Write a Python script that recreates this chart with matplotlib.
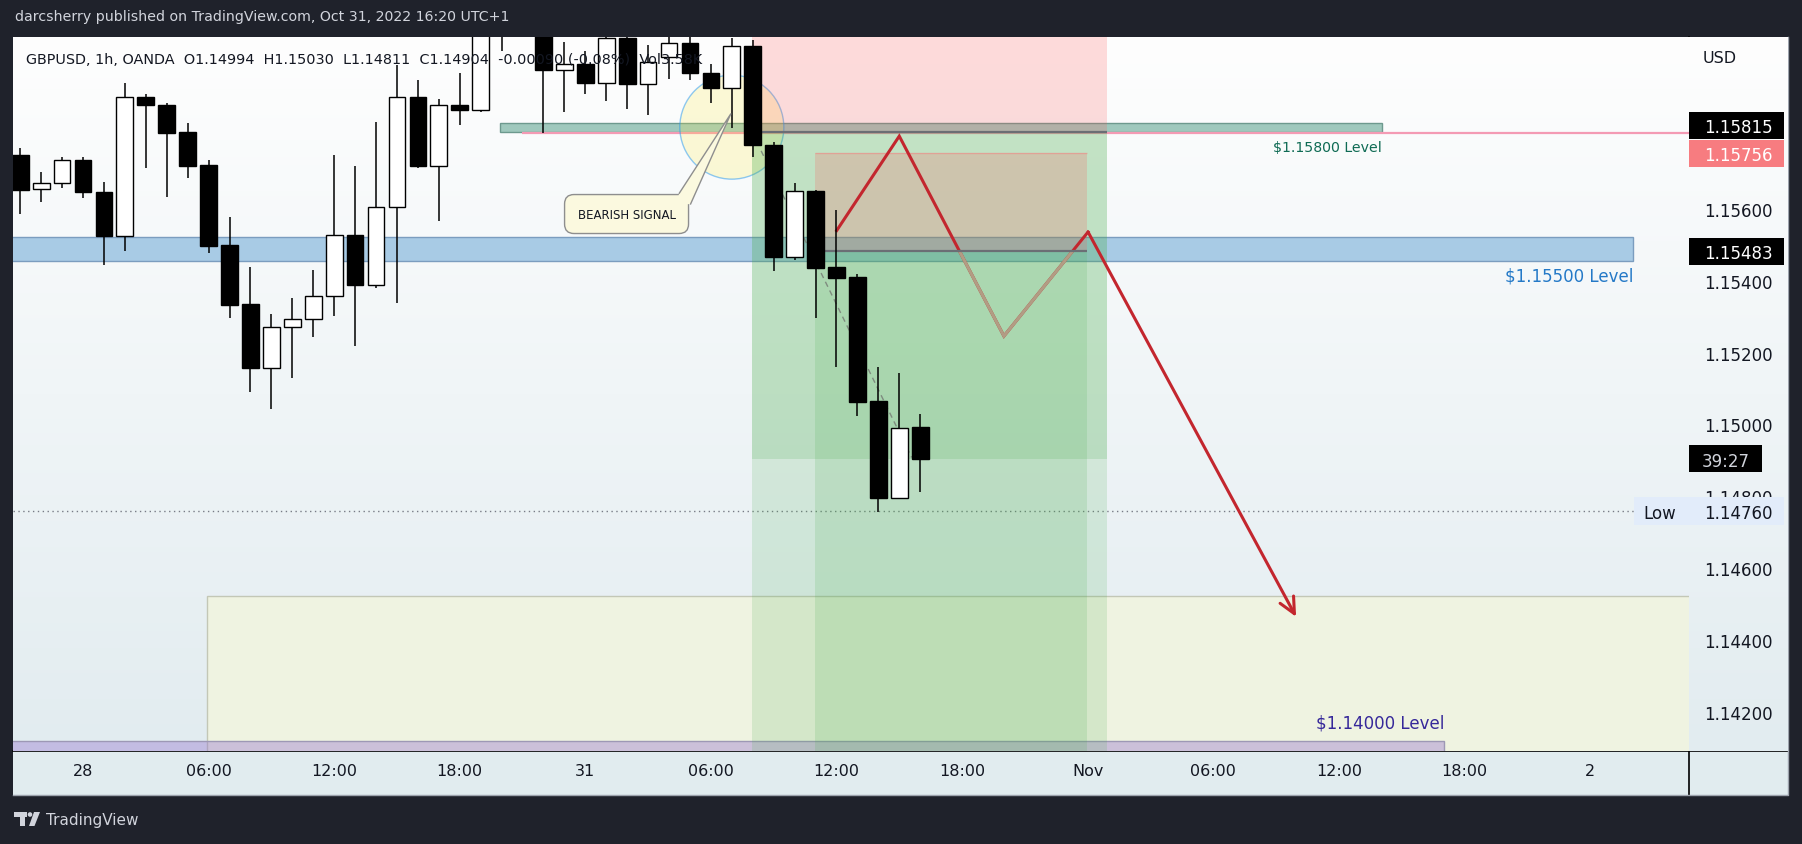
import numpy as np
import matplotlib
matplotlib.use("Agg")
import matplotlib.pyplot as plt
from matplotlib.patches import Rectangle, Ellipse, Polygon, Circle
from matplotlib.lines import Line2D
import matplotlib.transforms as mtransforms

plt.rcParams['font.family'] = ['DejaVu Sans']

# ---------------- data (GBPUSD 1h, bar index 0 = Oct 28 00:00) ----------------
bar_index = list(range(-3, 41))
opens = [1.15751, 1.15655, 1.15672, 1.15736, 1.15647, 1.15525, 1.15912, 1.15891, 1.15815, 1.15723,
         1.15499, 1.15334, 1.15157, 1.15270, 1.15295, 1.15359, 1.15527, 1.15389, 1.15605, 1.15912,
         1.15721, 1.15890, 1.15876, 1.16110, 1.16150, 1.16120, 1.15988, 1.16005, 1.15951, 1.16077,
         1.15948, 1.16024, 1.16061, 1.15979, 1.15937, 1.16054, 1.15778, 1.15467, 1.15649, 1.15438,
         1.15410, 1.15064, 1.14795, 1.14994]
highs = [1.15770, 1.15703, 1.15745, 1.15745, 1.15675, 1.15952, 1.15921, 1.15896, 1.15840, 1.15737,
         1.15578, 1.15438, 1.15307, 1.15351, 1.15430, 1.15751, 1.15720, 1.15843, 1.16000, 1.15960,
         1.15906, 1.15980, 1.16130, 1.16180, 1.16250, 1.16150, 1.16066, 1.16040, 1.16100, 1.16120,
         1.16056, 1.16090, 1.16090, 1.16005, 1.16075, 1.16070, 1.15786, 1.15673, 1.15652, 1.15597,
         1.15420, 1.15160, 1.15142, 1.15030]
lows = [1.15587, 1.15620, 1.15659, 1.15632, 1.15444, 1.15484, 1.15715, 1.15634, 1.15685, 1.15478,
        1.15296, 1.15090, 1.15043, 1.15129, 1.15243, 1.15302, 1.15218, 1.15380, 1.15339, 1.15715,
        1.15567, 1.15835, 1.15870, 1.16039, 1.16095, 1.15811, 1.15870, 1.15919, 1.15900, 1.15878,
        1.15861, 1.15961, 1.15958, 1.15894, 1.15827, 1.15746, 1.15428, 1.15458, 1.15296, 1.15160,
        1.15023, 1.14757, 1.14795, 1.14811]
closes = [1.15654, 1.15672, 1.15736, 1.15646, 1.15525, 1.15912, 1.15889, 1.15813, 1.15721, 1.15497,
          1.15333, 1.15157, 1.15270, 1.15295, 1.15359, 1.15527, 1.15389, 1.15605, 1.15912, 1.15721,
          1.15890, 1.15876, 1.16100, 1.16150, 1.16120, 1.15986, 1.16005, 1.15951, 1.16077, 1.15947,
          1.16010, 1.16061, 1.15979, 1.15936, 1.16054, 1.15777, 1.15467, 1.15649, 1.15436, 1.15408,
          1.15062, 1.14795, 1.14991, 1.14904]

xtick_pos = [0, 6, 12, 18, 24, 30, 36, 42, 48, 54, 60, 66, 72]
xtick_labels = ['28', '06:00', '12:00', '18:00', '31', '06:00', '12:00', '18:00',
                'Nov', '06:00', '12:00', '18:00', '2']
ytick_vals = [1.142, 1.144, 1.146, 1.148, 1.150, 1.152, 1.154, 1.156]
ytick_labels = ['%.5f' % v for v in ytick_vals]

# drawings (bar index / price)
level_1155 = (1.15456, 1.15521, 74.06)          # bottom, top, right end
level_1158 = (1.15814, 1.15839, 19.92, 62.06)   # bottom, top, left, right
level_114 = (1.14000, 1.14118, 65.03)
zone_low = (5.93, 1.14523)                      # left, top
last_price = 1.14904
session_low = 1.14760
pink_line = (1.15812, 20.96)
pos_a = (31.96, 48.93, 1.15815, 1.1625, 1.139)   # x0, x1, entry, stop, target
pos_b = (34.97, 47.97, 1.15483, 1.15756, 1.139)
zig_x = [36.01, 39.0, 44.0, 48.02, 57.96]
zig_y = [1.15540, 1.15803, 1.15246, 1.15536, 1.14464]
trend_x = [32.4, 39.59]
trend_y = [1.15762, 1.14908]
signal_center = (31.0, 1.15828)
callout_text_pos = (25.97, 1.15586)
callout_tail = [(28.49, 1.15644), (30.95, 1.15865), (29.03, 1.15614), (28.3, 1.15610)]

axis_labels = [  # (display price, text, box colour, text colour)
    (1.15833, '1.15815', '#000000', '#ffffff'),
    (1.15755, '1.15756', '#f77c80', '#ffffff'),
    (1.15482, '1.15483', '#000000', '#ffffff'),
]

# ---------------- layout ----------------
W, H = 1802, 845
PL, PT, PR, PB = 13, 38, 1689, 752
AR, AB = 1788, 796
xl, xr = (PL - 83) / 20.93, (PR - 83) / 20.93
pb, pt = 1.140903, 1.160791
ppx = (pt - pb) / (PB - PT)
xpx = (xr - xl) / (PR - PL)

fig = plt.figure(figsize=(W / 100, H / 100), dpi=100)
fig.patch.set_facecolor('#1f222b')


def fr(x0, y0, x1, y1):
    return [x0 / W, 1 - y1 / H, (x1 - x0) / W, (y1 - y0) / H]


tpx = mtransforms.Affine2D().scale(1 / W, -1 / H).translate(0, 1) + fig.transFigure

# gradient
N = 256
t = np.linspace(0, 1, N)[:, None]
top_c = np.array([254, 254, 254]) / 255
bot_c = np.array([226, 236, 240]) / 255
grad = (top_c + (bot_c - top_c) * t).reshape(N, 1, 3)

ax_t = fig.add_axes(fr(PL, PB, AR, AB))
ax_t.set_facecolor('#e1ecef')
ax_t.set_xticks([]); ax_t.set_yticks([])
for s in ax_t.spines.values():
    s.set_visible(False)
ax_t.set_zorder(1)

ax_p = fig.add_axes(fr(PR, PT, AR, PB))
ax_p.imshow(grad, extent=[0, 1, pb, pt], aspect='auto', zorder=0)
ax_p.set_xlim(0, 1); ax_p.set_ylim(pb, pt)
ax_p.set_xticks([])
ax_p.set_yticks(ytick_vals, ytick_labels)
ax_p.tick_params(axis='y', length=0, pad=-60.5, labelsize=12, labelcolor='#131722')
for s in ax_p.spines.values():
    s.set_visible(False)
ax_p.set_zorder(2)

ax = fig.add_axes(fr(PL, PT, PR, PB))
ax.imshow(grad, extent=[xl, xr, pb, pt], aspect='auto', zorder=0)
ax.set_xlim(xl, xr); ax.set_ylim(pb, pt)
ax.set_autoscale_on(False)
for s in ax.spines.values():
    s.set_visible(False)
ax.set_yticks([])
ax.set_xticks(xtick_pos, xtick_labels)
ax.tick_params(axis='x', length=0, pad=8.6, labelsize=11.5, labelcolor='#131722')
ax.set_zorder(3)

# price axis labels
for yv, txt, bc, tc in axis_labels:
    ax_p.add_patch(Rectangle((0, yv - 13.5 * ppx), 0.96, 27 * ppx, fc=bc, ec='none', zorder=5))
    ax_p.text(0.848, yv, txt, ha='right', va='center_baseline', fontsize=12, color=tc, zorder=6)
ax_p.add_patch(Rectangle((0, last_price - 13.5 * ppx), 0.737, 27 * ppx, fc='#000000', ec='none', zorder=5))
ax_p.text(0.369, last_price, '39:27', ha='center', va='center_baseline', fontsize=12, color='#d1d4dc', zorder=6)
ax_p.add_patch(Rectangle((0, session_low - 14 * ppx), 0.96, 28 * ppx, fc='#e2ecfa', ec='none', zorder=5))
ax_p.text(0.848, session_low, '%.5f' % session_low, ha='right', va='center_baseline', fontsize=12,
          color='#131722', zorder=6)
ax_p.text(0.138, 0.9716, 'USD', transform=ax_p.transAxes, ha='left', va='center', fontsize=11.5,
          color='#131722')

# ---------------- drawings ----------------
ax.add_patch(Rectangle((zone_low[0], 1.139), 80, zone_low[1] - 1.139, fc='#eff3e1', ec='#c3c7b6',
                       lw=1, zorder=1))
ax.add_patch(Rectangle((xl - 1, level_114[0]), level_114[2] - xl + 1, level_114[1] - level_114[0],
                       fc=(149 / 255, 117 / 255, 205 / 255, 0.4), ec='#9d98b5', lw=1, zorder=1.2))
ax.add_patch(Rectangle((xl - 1, level_1155[0]), level_1155[2] - xl + 1, level_1155[1] - level_1155[0],
                       fc='#a8cbe5', ec='#7b9dbf', lw=1, zorder=1.5))
ax.add_patch(Rectangle((level_1158[2], level_1158[0]), level_1158[3] - level_1158[2],
                       level_1158[1] - level_1158[0], fc='#9fc8bd', ec='#6d998e', lw=1, zorder=1.5))
ax.hlines(pink_line[0], pink_line[1], xr + 1, color='#f49ab4', lw=1.6, zorder=1.6)
ax.axhline(session_low, color='#787b86', lw=1, ls=(0, (1, 2.5)), zorder=1.7)

header = ('GBPUSD, 1h, OANDA  O1.14994  H1.15030  L1.14811  C1.14904  '
          '-0.00090 (-0.08%)  Vol3.58K')
ax.text((25.5 - PL) / (PR - PL), (PB - 60) / (PB - PT), header, transform=ax.transAxes,
        fontsize=10.4, color='#131722', va='center', ha='left', zorder=10)

ax.add_patch(Ellipse(signal_center, 104 * xpx, 104 * ppx, fc=(1, 0.92, 0.23, 0.2),
                     ec=(0.13, 0.59, 0.95, 0.5), lw=1, zorder=2))

green = (76 / 255, 175 / 255, 80 / 255)
red = (1, 82 / 255, 82 / 255)
x0, x1, en, st, tg = pos_a
ax.add_patch(Rectangle((x0, en), x1 - x0, st - en, fc=red + (0.2,), ec='none', zorder=3))
ax.add_patch(Rectangle((x0, tg), x1 - x0, en - tg, fc=green + (0.165,), ec='none', zorder=3))
ax.add_patch(Rectangle((x0, last_price), x1 - x0, en - last_price, fc=green + (0.18,), ec='none', zorder=3))
ax.hlines(en, x0, x1, color='#6b6e75', lw=1.6, zorder=4)

bx0, bx1, ben, bst, btg = pos_b
ax.add_patch(Rectangle((bx0, ben), bx1 - bx0, bst - ben, fc=red + (0.2,), ec='none', zorder=3.2))
ax.hlines(bst, bx0, bx1, color=(0.95, 0.5, 0.5, 0.5), lw=1, zorder=3.2)

ax.plot(zig_x[:-1], zig_y[:-1], color='#c3262e', lw=2.2, zorder=3.5, solid_joinstyle='miter')
ax.annotate('', xy=(zig_x[-1], zig_y[-1]), xytext=(zig_x[-2], zig_y[-2]),
            arrowprops=dict(arrowstyle='->,head_length=1.15,head_width=0.55', color='#c3262e',
                            lw=2.2, shrinkA=0, shrinkB=0), zorder=3.5)
b_target = Rectangle((bx0, btg), bx1 - bx0, ben - btg, fc=green + (0.165,), ec='none', zorder=3.6)
ax.add_patch(b_target)
faded, = ax.plot(zig_x[:-1], zig_y[:-1], color='#b29c84', lw=2.2, zorder=3.7, solid_joinstyle='miter')
faded.set_clip_path(b_target)
ax.hlines(ben, bx0 + 0.4, bx1, color='#6b6e75', lw=1.6, zorder=4)

ax.plot(trend_x, trend_y, color='#7f8c7f', lw=1, ls=(0, (4, 3)), zorder=5)

# candles
bottoms = [min(o, c) for o, c in zip(opens, closes)]
heights = [max(abs(c - o), 1.2 * ppx) for o, c in zip(opens, closes)]
colors = ['#000000' if c < o else '#ffffff' for o, c in zip(opens, closes)]
ax.vlines(bar_index, lows, highs, color='#000000', lw=1.1, zorder=6)
ax.bar(bar_index, heights, bottom=bottoms, width=0.8, color=colors, edgecolor='#000000',
       linewidth=1, zorder=6.5)

# callout
ax.text(callout_text_pos[0], callout_text_pos[1], 'BEARISH SIGNAL', fontsize=8.5, ha='center',
        va='center', color='#131722', zorder=7,
        bbox=dict(boxstyle='round,pad=1.1,rounding_size=0.8', fc='#fbf9df', ec='#8e8e8e', lw=1))
ax.add_patch(Polygon(callout_tail, closed=True, fc='#fbf9df', ec='none', zorder=7.1))
ax.plot([callout_tail[0][0], callout_tail[1][0], callout_tail[2][0]],
        [callout_tail[0][1], callout_tail[1][1], callout_tail[2][1]], color='#8e8e8e', lw=1, zorder=7.2)

# level labels
ax.text(level_1155[2], 1.15414, '$1.15500 Level', ha='right', va='center', fontsize=12,
        color='#2479c7', zorder=8)
ax.text(level_1158[3], 1.15772, '$1.15800 Level', ha='right', va='center', fontsize=10.2,
        color='#0f6b54', zorder=8)
ax.text(level_114[2], 1.14170, '$1.14000 Level', ha='right', va='center', fontsize=12,
        color='#36289a', zorder=8)

# Low label
ax.add_patch(Rectangle((xr - 55 * xpx, session_low - 14 * ppx), 55 * xpx, 28 * ppx, fc='#e2ecfa',
                       ec='none', zorder=8))
ax.text(xr - 29 * xpx, session_low, 'Low', ha='center', va='center_baseline', fontsize=12,
        color='#131722', zorder=9)

# frame lines
fig.add_artist(Line2D([PL / W, AR / W], [1 - PB / H] * 2, color='#000000', lw=1.2))
fig.add_artist(Line2D([PR / W] * 2, [1 - PT / H, 1 - AB / H], color='#000000', lw=1.2))
fig.add_artist(Line2D([PL / W, AR / W, AR / W], [1 - AB / H, 1 - AB / H, 1 - PT / H],
                      color='#9da3ad', lw=1))

# header / footer
fig.text(15 / W, 1 - 17 / H, 'darcsherry published on TradingView.com, Oct 31, 2022 16:20 UTC+1',
         color='#d1d4dc', fontsize=10.2, va='center', ha='left')
fig.text(46 / W, 1 - 821 / H, 'TradingView', color='#d1d4dc', fontsize=11, va='center', ha='left')
logo_c = '#d1d4dc'
fig.add_artist(Polygon([(14, 813), (27, 813), (27, 817.5), (14, 817.5)], closed=True, fc=logo_c,
                       ec='none', transform=tpx))
fig.add_artist(Polygon([(19.5, 813), (24.5, 813), (24.5, 827), (19.5, 827)], closed=True, fc=logo_c,
                       ec='none', transform=tpx))
fig.add_artist(Circle((30, 815.5), 2.3, fc=logo_c, ec='none', transform=tpx))
fig.add_artist(Polygon([(34, 813), (40, 813), (34.5, 827), (29, 827)], closed=True, fc=logo_c,
                       ec='none', transform=tpx))

fig.savefig('out.png', dpi=100, facecolor=fig.get_facecolor())
